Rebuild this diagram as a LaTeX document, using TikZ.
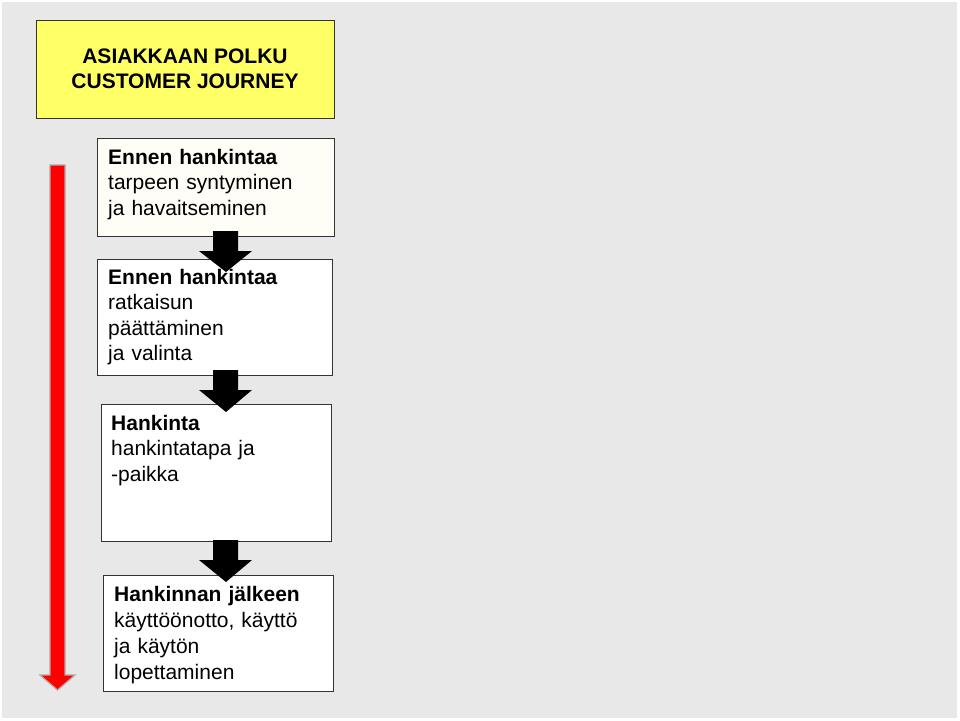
\documentclass[tikz,border=0pt]{standalone}
\usepackage{fontspec}
\setmainfont{Liberation Sans}
\definecolor{bggray}{HTML}{E8E8E8}
\definecolor{titleyellow}{HTML}{FFFF66}
\definecolor{cream}{HTML}{FFFEF6}
\definecolor{boxline}{HTML}{333333}
\definecolor{arrowred}{HTML}{FF0000}
\definecolor{arrowedge}{HTML}{B4A8A8}
\begin{document}
\begin{tikzpicture}[x=1pt,y=-1pt,
  stagebox/.style={draw=boxline,line width=0.9pt,anchor=north west,inner sep=0pt,outer sep=0pt},
  stagetext/.style={anchor=base west,inner sep=0pt,text width=230pt,align=left,font=\fontsize{21}{25.6}\selectfont},
  blockarrow/.style={fill=black}]
\useasboundingbox (0,0) rectangle (960,720);
\fill[white] (0,0) rectangle (960,720);
\fill[bggray] (2,2) rectangle (957,718);
% title
\node[stagebox,fill=titleyellow,minimum width=298pt,minimum height=98pt] (title) at (36,20) {};
\node[align=center,inner sep=0pt,font=\fontsize{21}{25}\selectfont\bfseries] (titletext) at (185,68.5) {ASIAKKAAN POLKU\\CUSTOMER JOURNEY};
% boxes
\node[stagebox,fill=cream,minimum width=237pt,minimum height=98pt] (b1) at (97,138) {};
\node[stagebox,fill=white,minimum width=235pt,minimum height=116pt] (b2) at (97,259) {};
\node[stagebox,fill=white,minimum width=230pt,minimum height=137pt] (b3) at (101,404) {};
\node[stagebox,fill=white,minimum width=230pt,minimum height=116pt] (b4) at (103,575) {};
% texts
\node[stagetext] (t1) at (108,164) {\textbf{Ennen hankintaa}\\tarpeen syntyminen\\ja havaitseminen};
\node[stagetext] (t3) at (111,430) {\textbf{Hankinta}\\hankintatapa ja\\-paikka};
\node[stagetext,font=\fontsize{21}{26}\selectfont] (t4) at (114,601) {\textbf{Hankinnan jälkeen}\\käyttöönotto, käyttö\\ja käytön\\lopettaminen};
% black arrows
\fill[blockarrow] (213,231) -- (238,231) -- (238,251) -- (252,251) -- (226,272) -- (199,251) -- (213,251) -- cycle;
\node[stagetext] (t2) at (108,284) {\textbf{Ennen hankintaa}\\ratkaisun\\päättäminen\\ja valinta};
\fill[blockarrow] (213,370) -- (238,370) -- (238,390) -- (252,390) -- (226,412) -- (199,390) -- (213,390) -- cycle;
\fill[blockarrow] (213,540) -- (238,540) -- (238,560) -- (252,560) -- (226,582) -- (199,560) -- (213,560) -- cycle;
% red arrow
\filldraw[fill=arrowred,draw=arrowedge,line width=1.2pt,line join=miter]
  (50,165) -- (65,165) -- (65,675) -- (75,675) -- (57.5,690) -- (40,675) -- (50,675) -- cycle;
\end{tikzpicture}
\end{document}
